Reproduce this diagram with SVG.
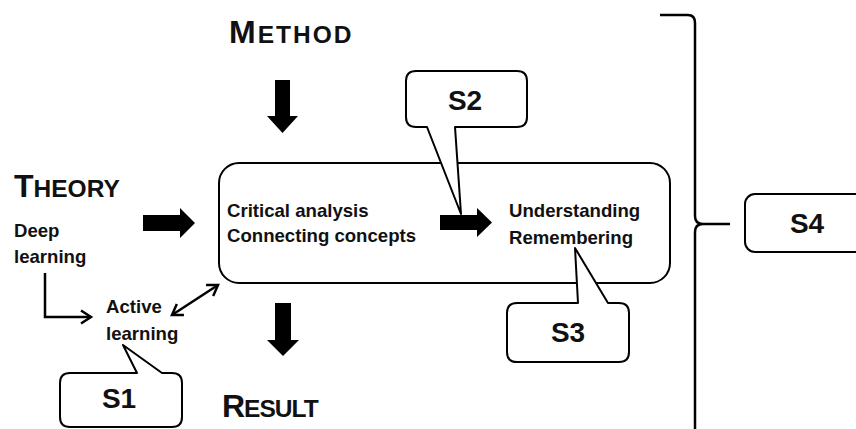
<svg xmlns="http://www.w3.org/2000/svg" width="856" height="429" viewBox="0 0 856 429">
  <style>
    .txt { font-family: "Liberation Sans", Arial, sans-serif; font-weight: bold; fill: #111; }
    .body { font-size: 18.6px; }
    .head { font-size: 32px; }
    .sc { font-size: 24.5px; }
    .lbl { font-size: 28px; text-anchor: middle; }
    .shape { fill: #fff; stroke: #000; stroke-width: 2; stroke-linejoin: round; }
    .block { fill: #000; }
    .line { fill: none; stroke: #000; stroke-width: 2.5; }
  </style>
  <defs>
    <marker id="open" viewBox="0 0 16 16" refX="13" refY="8" markerWidth="16" markerHeight="16" markerUnits="userSpaceOnUse" orient="auto-start-reverse">
      <path d="M3,1.5 L13,8 L3,14.5" fill="none" stroke="#000" stroke-width="2.5" stroke-linejoin="miter"/>
    </marker>
  </defs>

  <!-- headings -->
  <g id="theory">
    <text class="txt head" x="14" y="197">T<tspan class="sc">HEORY</tspan></text>
    <text class="txt body" x="14" y="237">Deep</text>
    <text class="txt body" x="14" y="263">learning</text>
  </g>
  <g id="method">
    <text class="txt head" x="229" y="43" letter-spacing="2">M<tspan class="sc">ETHOD</tspan></text>
  </g>
  <g id="result">
    <text class="txt head" x="222" y="417" letter-spacing="-1">R<tspan class="sc">ESULT</tspan></text>
  </g>
  <g id="active">
    <text class="txt body" x="106" y="313">Active</text>
    <text class="txt body" x="106" y="340">learning</text>
  </g>

  <!-- central process box -->
  <g id="process">
    <rect class="shape" x="219" y="163" width="451" height="120" rx="20"/>
    <text class="txt body" x="227" y="217">Critical analysis</text>
    <text class="txt body" x="227" y="242">Connecting concepts</text>
    <text class="txt body" x="509" y="217">Understanding</text>
    <text class="txt body" x="509" y="244">Remembering</text>
  </g>

  <!-- connectors -->
  <g id="connectors">
    <path class="block" d="M275,80 H290 V116 H298 L282.5,133 L267,116 H275 Z"/>
    <path class="block" d="M275,303 H291 V340 H299 L283,356 L267,340 H275 Z"/>
    <path class="block" d="M143,215 V231 H180 V238 L195,223 L180,208 V215 Z"/>
    <path class="block" d="M440,215 V230 H477 V237 L492,222.5 L477,208 V215 Z"/>
    <path class="line" d="M45,273 V317 H91" marker-end="url(#open)"/>
    <path class="line" d="M172,315 L218,285" marker-start="url(#open)" marker-end="url(#open)"/>
    <path class="line" d="M660,15 H688 Q695,15 695,23 V216 Q695,224 703,224 H730 M703,224 Q695,224 695,232 V430"/>
  </g>

  <!-- callouts -->
  <g id="s1">
    <path class="shape" d="M70,373 H137 L123,345 L162,373 H172 Q182,373 182,383 V417 Q182,427 172,427 H70 Q60,427 60,417 V383 Q60,373 70,373 Z"/>
    <text class="txt lbl" x="119" y="408">S1</text>
  </g>
  <g id="s2">
    <path class="shape" d="M416,71 H517 Q527,71 527,81 V117 Q527,127 517,127 H455 L461,214 L427,127 H416 Q406,127 406,117 V81 Q406,71 416,71 Z"/>
    <text class="txt lbl" x="465" y="110">S2</text>
  </g>
  <g id="s3">
    <path class="shape" d="M517,303 H578 L575,248 L608,303 H619 Q629,303 629,313 V352 Q629,362 619,362 H517 Q507,362 507,352 V313 Q507,303 517,303 Z"/>
    <text class="txt lbl" x="568" y="342">S3</text>
  </g>
  <g id="s4">
    <rect class="shape" x="745" y="194" width="130" height="58" rx="10"/>
    <text class="txt lbl" x="807" y="233">S4</text>
  </g>
</svg>
